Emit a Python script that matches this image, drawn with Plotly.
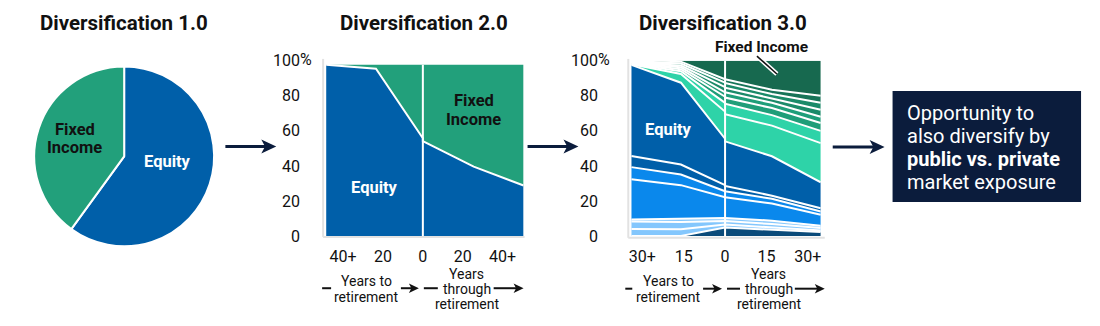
import numpy as np
import plotly.graph_objects as go

W, H = 1100, 326
FONT = "Roboto, Arial, sans-serif"
INK = "#111111"
NAVY = "#0b1c3c"
EQUITY_BLUE = "#005fa9"
FI_GREEN = "#22a07b"

# ---------------- data ----------------
# Diversification 1.0: single equity / fixed income split
pie_labels = ["Equity", "Fixed Income"]
pie_values = [60, 40]

# Diversification 2.0: two-asset glide path (years to / through retirement)
g2_x = [-48.5, -23.5, 0, 0, 25.5, 50.5]
g2_equity = [97.8, 95.5, 55.8, 54.1, 39.6, 28.8]
g2_fixed = [0.0, 2.3, 42.0, 43.7, 58.2, 69.0]
g2_tickvals = [-40, -20, 0, 20, 40]
g2_ticktext = ["40+", "20", "0", "20", "40+"]

# Diversification 3.0: multi-sleeve glide path, layers listed bottom to top
g3_x = [-34, -16, 0, 0, 17, 34.7]
g3_layers = [
    [0.0, 0.0, 4.8, 4.8, 3.5, 2.2],
    [4.0, 3.8, 1.7, 1.7, 1.5, 0.9],
    [4.2, 4.2, 2.0, 2.0, 1.8, 1.4],
    [1.2, 1.8, 1.8, 1.8, 1.9, 1.3],
    [23.0, 19.2, 11.8, 11.8, 9.8, 6.3],
    [6.9, 6.1, 3.4, 3.4, 2.7, 1.9],
    [6.4, 5.7, 3.5, 3.0, 1.8, 1.8],
    [52.0, 46.7, 26.5, 25.5, 22.5, 14.8],
    [0.3, 5.0, 15.5, 15.5, 17.5, 22.4],
    [0.2, 1.5, 5.0, 6.0, 6.0, 7.0],
    [0.2, 1.2, 3.5, 3.5, 4.0, 4.5],
    [0.1, 1.1, 2.5, 3.0, 3.0, 3.5],
    [0.1, 1.0, 3.0, 2.6, 2.5, 4.0],
    [0.1, 1.1, 2.5, 2.7, 2.5, 4.0],
    [0.1, 1.1, 2.0, 2.2, 2.5, 4.0],
    [0.0, 0.5, 10.5, 10.5, 16.5, 20.0],
]
g3_colors = [
    "#0b4b7a", "#84c7fd", "#84c7fd", "#84c7fd",
    "#0a88ec", "#0a88ec", "#005fa9", "#005fa9",
    "#2ed3a8", "#2ed3a8", "#1f9e79", "#1f9e79",
    "#1b8a69", "#1b8a69", "#177458", "#17694f",
]
g3_tickvals = [-30, -15, 0, 15, 30]
g3_ticktext = ["30+", "15", "0", "15", "30+"]

y_tickvals = [0, 20, 40, 60, 80, 100]
y_ticktext = ["0", "20", "40", "60", "80", "100"]


def px(x):
    return x / W


def py(y):
    return 1 - y / H


fig = go.Figure()

# ---------------- pie ----------------
fig.add_trace(go.Pie(
    labels=pie_labels, values=pie_values, sort=False, direction="clockwise",
    rotation=0, textinfo="none", hoverinfo="label+percent", showlegend=False,
    marker=dict(colors=[EQUITY_BLUE, FI_GREEN], line=dict(color="white", width=2)),
    domain=dict(x=[px(27), px(218)], y=[py(252), py(61)]),
))

# ---------------- glide path 2.0 ----------------
eq_top = np.array(g2_equity)
fi_top = eq_top + np.array(g2_fixed)
fig.add_trace(go.Scatter(
    x=g2_x, y=eq_top, mode="lines", fill="tozeroy", fillcolor=EQUITY_BLUE,
    line=dict(color="white", width=2), xaxis="x2", yaxis="y2",
    showlegend=False, name="Equity"))
fig.add_trace(go.Scatter(
    x=g2_x, y=fi_top, mode="lines", fill="tonexty", fillcolor=FI_GREEN,
    line=dict(color=FI_GREEN, width=0), xaxis="x2", yaxis="y2",
    showlegend=False, name="Fixed Income"))

# ---------------- glide path 3.0 ----------------
cum = np.cumsum(np.array(g3_layers), axis=0)
for i, (top, col) in enumerate(zip(cum, g3_colors)):
    last = i == len(cum) - 1
    fig.add_trace(go.Scatter(
        x=g3_x, y=top, mode="lines", fill="tozeroy" if i == 0 else "tonexty",
        fillcolor=col, line=dict(color=col if last else "white", width=0 if last else 2),
        xaxis="x3", yaxis="y3", showlegend=False))

axis_common = dict(showgrid=False, zeroline=False, showline=False, fixedrange=True,
                   ticks="outside", tickcolor="rgba(0,0,0,0)",
                   tickfont=dict(family=FONT, size=16, color=INK))

fig.update_layout(
    xaxis2=dict(axis_common, domain=[px(325), px(523)], range=[-48.5, 50.5],
                anchor="y2", tickvals=g2_tickvals, ticktext=g2_ticktext, ticklen=6),
    yaxis2=dict(axis_common, domain=[py(241), py(55)], range=[0, 100],
                anchor="x2", tickvals=y_tickvals, ticktext=y_ticktext, ticklen=22),
    xaxis3=dict(axis_common, domain=[px(631), px(821)], range=[-34, 34.7],
                anchor="y3", tickvals=g3_tickvals, ticktext=g3_ticktext, ticklen=6),
    yaxis3=dict(axis_common, domain=[py(241), py(55)], range=[0, 100],
                anchor="x3", tickvals=y_tickvals, ticktext=y_ticktext, ticklen=29),
)

# ---------------- shapes ----------------
shapes = []


def pline(x0, y0, x1, y1, color, width):
    shapes.append(dict(type="line", xref="paper", yref="paper",
                       x0=px(x0), y0=py(y0), x1=px(x1), y1=py(y1),
                       line=dict(color=color, width=width), layer="above"))


def arrow(x0, x1, y, lw, hl, hh, color=NAVY):
    pline(x0, y, x1 - hl * 0.6, y, color, lw)
    pts = [(x1, y), (x1 - hl, y - hh), (x1 - hl * 0.75, y), (x1 - hl, y + hh)]
    path = "M " + " L ".join(f"{px(a):.5f},{py(b):.5f}" for a, b in pts) + " Z"
    shapes.append(dict(type="path", xref="paper", yref="paper", path=path,
                       fillcolor=color, line=dict(width=0), layer="above"))


# light axis frames
pline(322, 53, 322, 242, "#e2e2e2", 2)
pline(322, 242, 524, 242, "#e2e2e2", 2)
pline(628, 53, 628, 243, "#e2e2e2", 2)
pline(628, 243, 825, 243, "#e2e2e2", 2)

# retirement divider lines
shapes.append(dict(type="line", xref="x2", yref="y2", x0=0, x1=0, y0=0, y1=fi_top.max(),
                   line=dict(color="white", width=2), layer="above"))
shapes.append(dict(type="line", xref="x3", yref="y3", x0=0, x1=0, y0=0, y1=cum[-1].max(),
                   line=dict(color="white", width=2), layer="above"))

# flow arrows between panels
arrow(224, 275, 146, 3, 15, 7.5)
arrow(527, 578, 146, 3, 15, 7.5)
arrow(833, 885, 146.5, 3, 15, 7.5)

# axis caption arrows and dashes
for (d0, d1, a0, a1, d2, d3, b0, b1, yy) in [
    (321, 330, 400, 418, 423, 437, 493, 523, 296.5),
    (625, 632, 703, 722, 727, 740, 795, 825, 297),
]:
    pline(d0, yy, d1, yy, INK, 2)
    arrow(a0, a1, yy, 2, 10, 5, INK)
    pline(d2, yy, d3, yy, INK, 2)
    arrow(b0, b1, yy, 2, 10, 5, INK)

# callout box
shapes.append(dict(type="rect", xref="paper", yref="paper",
                   x0=px(893), x1=px(1082), y0=py(205), y1=py(87),
                   fillcolor=NAVY, line=dict(width=0), layer="above"))

# pointer for the fixed-income label
pline(757, 50, 777, 69, "white", 4.5)
pline(757, 50, 777, 69, INK, 1.5)

fig.update_layout(shapes=shapes)

# ---------------- text ----------------
ann = []


def text(s, x, y, size, color=INK, bold=False, xanchor="center"):
    ann.append(dict(text=f"<b>{s}</b>" if bold else s, x=px(x), y=py(y),
                    xref="paper", yref="paper", xanchor=xanchor, yanchor="middle",
                    showarrow=False, borderpad=0,
                    font=dict(family=FONT, size=size, color=color)))


text("Diversification 1.0", 122, 15, 20.5, bold=True)
text("Diversification 2.0", 423, 15, 20.5, bold=True)
text("Diversification 3.0", 723, 15, 20.5, bold=True)

text("Fixed", 73, 128, 16.5, bold=True)
text("Income", 73, 147, 16.5, bold=True)
text("Equity", 166, 162, 16.5, "white", bold=True)

text("Equity", 374, 190, 16.5, "white", bold=True)
text("Fixed", 473, 97, 16.5, bold=True)
text("Income", 473, 117, 16.5, bold=True)

text("Equity", 668, 128, 16.5, "white", bold=True)
text("Fixed Income", 762, 40, 15.5, bold=True)

text("%", 297.5, 54, 16, xanchor="left")
text("%", 596.5, 54, 16, xanchor="left")

for cx_to, cx_thr in [(365, 466), (668, 769)]:
    text("Years to", cx_to, 289, 14)
    text("retirement", cx_to, 305.5, 14)
    text("Years", cx_thr, 281.5, 14)
    text("through", cx_thr, 297.5, 14)
    text("retirement", cx_thr, 313.5, 14)

text("Opportunity to", 906, 110, 20, "white", xanchor="left")
text("also diversify by", 906, 134.5, 20, "white", xanchor="left")
text("public vs. private", 906, 159, 20, "white", bold=True, xanchor="left")
text("market exposure", 906, 183.5, 20, "white", xanchor="left")

fig.update_layout(
    annotations=ann,
    width=W, height=H, autosize=False,
    margin=dict(l=0, r=0, t=0, b=0),
    paper_bgcolor="white", plot_bgcolor="white",
    font=dict(family=FONT, color=INK),
    showlegend=False,
)

fig.write_html("out.html", config={"displayModeBar": False})
